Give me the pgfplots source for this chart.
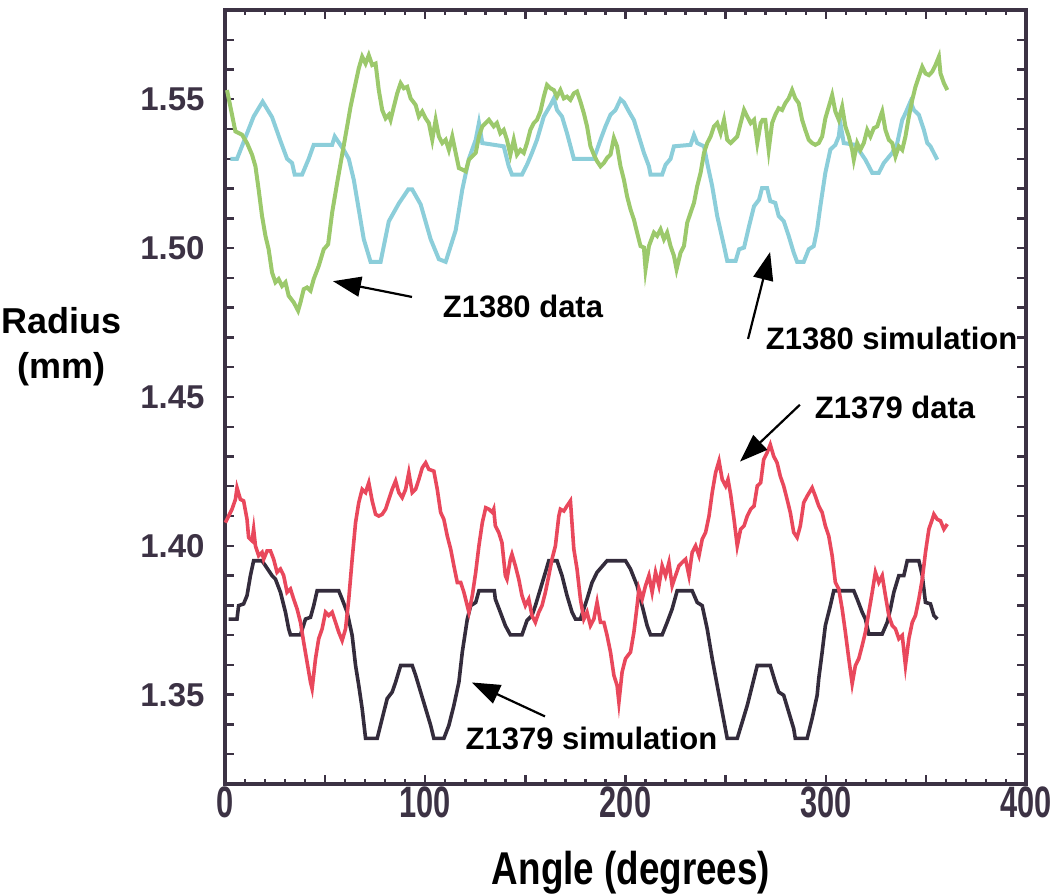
\documentclass[border=0pt]{standalone}
\usepackage{fontspec}
\setmainfont{Liberation Sans}
\usepackage{graphicx}
\usepackage{pgfplots}
\pgfplotsset{compat=1.18}
\usetikzlibrary{arrows.meta}

\definecolor{simcyan}{RGB}{140,206,218}
\definecolor{datagreen}{RGB}{156,201,108}
\definecolor{datared}{RGB}{233,72,92}
\definecolor{simdark}{RGB}{52,44,60}
\definecolor{framecol}{RGB}{60,50,68}

% condensed x tick labels
\newcommand{\xl}[1]{\scalebox{0.7}[1]{#1}}

\begin{document}
\begin{tikzpicture}
\begin{axis}[
    name=ax,
    scale only axis,
    width=400.5pt,
    height=387pt,
    xmin=0, xmax=400,
    ymin=1.32, ymax=1.58,
    clip=false,
    axis line style={framecol, line width=1.7pt},
    tick style={framecol, line width=1.2pt},
    tick align=inside,
    major tick length=4.5pt,
    minor tick length=2.5pt,
    xtick={0,50,...,400},
    xticklabels={\xl{0},,\xl{100},,\xl{200},,\xl{300},,\xl{400}},
    minor xtick={10,20,...,390},
    ytick={1.33,1.34,1.35,1.36,1.37,1.38,1.39,1.40,1.41,1.42,1.43,1.44,1.45,1.46,1.47,1.48,1.49,1.50,1.51,1.52,1.53,1.54,1.55,1.56,1.57},
    yticklabels={,,1.35,,,,,1.40,,,,,1.45,,,,,1.50,,,,,1.55,,},
    xticklabel style={font=\fontsize{22}{24}\selectfont\bfseries, text=framecol, inner sep=1pt},
    yticklabel style={font=\fontsize{16.5}{18}\selectfont\bfseries, text=framecol, inner sep=0pt, xshift=-10pt},
]

% Z1380 simulation
\addplot[simcyan, line width=2pt] coordinates {
(2.7,1.530) (6,1.530) (14.3,1.5442) (18.8,1.5492) (23.5,1.544) (27.7,1.536) (31,1.530) (33.5,1.5286)
(34.8,1.5247) (38.5,1.5247) (41.8,1.530) (44.3,1.5347) (53.5,1.5347) (54.8,1.5375) (59.3,1.533)
(61.8,1.530) (64.3,1.523) (66.8,1.513) (69.3,1.503) (72.7,1.4954) (77.7,1.4954) (81.8,1.509)
(86.8,1.515) (91.5,1.5197) (93.5,1.5197) (97.7,1.5147) (102.7,1.503) (106.8,1.4963) (110.2,1.4954)
(115.2,1.506) (118.5,1.5197) (121.8,1.530) (125.2,1.5364) (126.8,1.542) (128.5,1.5353) (139.2,1.5342)
(141.7,1.5275) (143.3,1.5247) (148.3,1.5247) (150.8,1.528) (153.3,1.532) (155.8,1.5364) (159.2,1.5442)
(162.5,1.548) (164.2,1.5503) (165.8,1.5464) (168.3,1.5442) (170.8,1.5386) (174.2,1.530) (184.2,1.530)
(187.5,1.5364) (190,1.5409) (192.5,1.5448) (195,1.5464) (197.5,1.550) (199.2,1.549) (201.7,1.5459)
(204.2,1.543) (206.7,1.5375) (209.2,1.532) (211.7,1.5275) (212.5,1.5247) (218.3,1.5247) (220,1.528)
(222.5,1.530) (224.2,1.5342) (232.5,1.5347) (234.2,1.538) (235.8,1.5353) (239.2,1.5342) (240.8,1.5286)
(243.3,1.5208) (245.8,1.5108) (249.2,1.5007) (250.8,1.4957) (255,1.4957) (256.7,1.4996) (259.2,1.5002)
(261.7,1.5074) (264.2,1.5141) (266.7,1.5163) (268.2,1.5202) (270.7,1.5202) (272.3,1.5158) (274.8,1.5152)
(276.5,1.5108) (279,1.5091) (281.5,1.5041) (284,1.4985) (285.7,1.4954) (289,1.4954) (291.5,1.4996)
(294,1.5007) (295.7,1.5063) (297.3,1.5141) (299.8,1.5253) (302.3,1.5331) (304.8,1.5347) (306.5,1.5375)
(307.3,1.542) (309,1.5353) (314.8,1.5347) (316.5,1.533) (319.8,1.5297) (323.2,1.5253) (326.5,1.5253)
(329,1.5286) (333.2,1.532) (335.7,1.5353) (338.2,1.5431) (339.8,1.5453) (342.3,1.5492) (344,1.5464)
(346.5,1.5448) (349,1.5397) (350.7,1.5353) (352.3,1.5342) (355.7,1.5297)
};

% Z1380 data
\addplot[datagreen, line width=2pt] coordinates {
(1,1.5531) (5.2,1.5392) (8.5,1.5381) (11,1.5353) (13.5,1.5314) (15.2,1.5275) (16.8,1.5197) (18.5,1.5108)
(20.2,1.5041) (21.8,1.4996) (23.5,1.4918) (25.2,1.4885) (26.8,1.4896) (28.5,1.4873) (30.2,1.4885)
(31.8,1.484) (34.3,1.4818) (36.5,1.479) (37.7,1.4818) (39.3,1.4862) (41,1.4868) (42.7,1.4857)
(44.3,1.4896) (46.8,1.494) (49.3,1.4996) (51.5,1.5013) (53.5,1.5119) (56,1.5219) (58.5,1.5314)
(61,1.5409) (62.7,1.5475) (65.2,1.5554) (66.8,1.5604) (68.5,1.5643) (70.2,1.562) (71.8,1.5648)
(73.5,1.5615) (75.2,1.562) (76.8,1.5531) (78.5,1.5464) (80.2,1.5436) (81.8,1.5448) (82.7,1.5431)
(84.3,1.5475) (86,1.552) (87.7,1.5554) (89.3,1.5537) (91,1.5542) (92.7,1.5503) (95.2,1.5481)
(96.8,1.5442) (98.5,1.5459) (100.2,1.5436) (101.8,1.542) (103.5,1.5364) (105.2,1.5431) (106.8,1.5375)
(108.5,1.5353) (110.2,1.5364) (111.8,1.533) (113.5,1.5375) (115.2,1.532) (116.8,1.5269) (118.5,1.5264)
(120.2,1.5258) (121.8,1.5297) (125.2,1.532) (126.8,1.5375) (128.5,1.5409) (131.8,1.5431) (134.2,1.5409)
(135.8,1.542) (137.5,1.5386) (139.2,1.5397) (140.8,1.5364) (142.5,1.5314) (144.2,1.5364) (145.8,1.5314)
(147.5,1.533) (149.2,1.532) (150.8,1.5353) (152.5,1.5397) (154.2,1.542) (155.8,1.5431) (157.5,1.5459)
(159.2,1.5509) (160.8,1.5548) (162.5,1.5537) (164.2,1.5531) (165.8,1.5509) (167.5,1.5531) (169.2,1.5503)
(170.8,1.5509) (172.5,1.5498) (174.2,1.552) (175.8,1.5526) (177.5,1.5492) (179.2,1.5453) (180.8,1.5409)
(182.5,1.5342) (184.2,1.5314) (185.8,1.5292) (187.5,1.5275) (189.2,1.5286) (190.8,1.5303) (192.5,1.5314)
(194.2,1.537) (195.8,1.5342) (197.5,1.5275) (199.2,1.523) (200.8,1.5174) (202.5,1.513) (204.2,1.5096)
(205.8,1.5052) (207.5,1.5007) (209.2,1.5002) (210,1.4929) (211.7,1.5007) (214.2,1.5052) (215.8,1.5041)
(217.5,1.5063) (219.2,1.503) (220.8,1.5052) (222.5,1.5007) (224.2,1.4974) (225.5,1.4929) (227.5,1.4985)
(229.2,1.5007) (230.8,1.5085) (232.5,1.5119) (234.2,1.5152) (235.8,1.5208) (237.5,1.5253) (239.2,1.532)
(240.8,1.5353) (242.5,1.5375) (244.2,1.5409) (245.8,1.542) (247.5,1.5386) (249.2,1.5431) (250.8,1.5364)
(252.5,1.5353) (254.2,1.5364) (255.8,1.5375) (257.5,1.542) (259.2,1.5464) (260.8,1.5442) (262.5,1.542)
(264.2,1.5431) (265.8,1.5353) (267.5,1.542) (268.5,1.5431) (269.8,1.5431) (271.5,1.533) (273.2,1.542)
(274.8,1.5448) (276.5,1.547) (278.2,1.5464) (279.8,1.5487) (281.5,1.5503) (283.2,1.5531) (284.8,1.5503)
(286.5,1.5487) (288.2,1.5431) (289.8,1.5397) (291.5,1.5364) (293.2,1.5353) (294.8,1.5347) (296.5,1.5353)
(298.2,1.5375) (299.8,1.5436) (301.5,1.5475) (303.2,1.5514) (304.8,1.5459) (306.5,1.5431) (308.2,1.5475)
(309.8,1.5409) (311.5,1.5375) (313.2,1.533) (314,1.5297) (315.7,1.5353) (317.3,1.533) (319,1.5353)
(320.7,1.5397) (322.3,1.5375) (324,1.5403) (325.7,1.5409) (327.3,1.5442) (328.2,1.5459) (329.8,1.5397)
(331.5,1.5364) (333.2,1.5353) (334.8,1.5308) (336.5,1.5342) (338.2,1.533) (339.8,1.5375) (341.5,1.5442)
(343.2,1.5498) (344.8,1.5542) (346.5,1.5576) (348.2,1.5609) (349.8,1.5587) (351.5,1.5581) (353.2,1.5593)
(354.8,1.5615) (356.5,1.5643) (357.3,1.5587) (359,1.5554) (360.7,1.5531)
};

% Z1379 simulation
\addplot[simdark, line width=1.8pt] coordinates {
(1.8,1.3754) (6,1.3754) (6.8,1.3799) (9.3,1.3805) (11,1.3833) (12.7,1.39) (14.3,1.395) (18.5,1.395)
(20.2,1.3933) (23.5,1.39) (25.2,1.3888) (27.7,1.3844) (30.2,1.3777) (31.8,1.3721) (32.7,1.3701)
(37.7,1.3701) (40.2,1.3754) (42.7,1.376) (44.3,1.3799) (46,1.3849) (56.8,1.3849) (58.5,1.3821)
(61,1.3777) (63.5,1.3699) (65.2,1.3598) (66.8,1.3531) (68.5,1.3453) (70.2,1.3353) (76,1.3353)
(78.5,1.342) (81,1.3487) (83.5,1.3509) (85.2,1.3542) (87.7,1.3598) (93.5,1.3598) (95.2,1.3565)
(97.7,1.3509) (100.2,1.3453) (102.7,1.3397) (104.3,1.3353) (109.3,1.3353) (111.8,1.3397) (114.3,1.3464)
(116.8,1.3542) (118.5,1.3643) (121,1.3754) (122.7,1.3799) (125.2,1.381) (126.8,1.3849) (134.5,1.3849)
(135,1.3821) (137.5,1.3777) (140,1.3732) (142.5,1.3701) (148.3,1.3701) (150.8,1.3749) (153.3,1.3766)
(155,1.3799) (157.5,1.3855) (160,1.3911) (161.7,1.395) (165.8,1.395) (168.3,1.39) (170.8,1.3833)
(173.3,1.3777) (175,1.3754) (177.5,1.3754) (180.8,1.3821) (183.3,1.3877) (185.8,1.3911) (190.8,1.395)
(200,1.395) (202.5,1.3922) (205.8,1.3866) (208.3,1.3799) (210.8,1.3732) (212.5,1.3701) (218.3,1.3701)
(220.8,1.3743) (223.3,1.3788) (225.8,1.3849) (233.3,1.3849) (235.8,1.381) (238.3,1.3799) (240.8,1.3721)
(243.3,1.3621) (245.8,1.3531) (248.3,1.3442) (250.8,1.3353) (255.8,1.3353) (258.3,1.3408) (260.8,1.3464)
(263.3,1.3531) (265.8,1.3598) (272.3,1.3598) (274.8,1.3542) (276.5,1.3509) (279,1.3498) (281.5,1.3442)
(284,1.3386) (284.8,1.3353) (290.7,1.3353) (293.2,1.342) (295.7,1.3498) (296.5,1.3554) (298.2,1.3643)
(299.8,1.3732) (302.3,1.3799) (304,1.3849) (314,1.3849) (315.7,1.3821) (318.2,1.3777) (319.8,1.3754)
(321.5,1.3704) (328.2,1.3704) (330.7,1.3743) (332.3,1.3788) (334,1.3844) (336.5,1.39) (339,1.39)
(340.7,1.395) (346.5,1.395) (348.2,1.39) (349.8,1.381) (352.3,1.3805) (354,1.3766) (355.7,1.3754)
};

% Z1379 data
\addplot[datared, line width=1.8pt] coordinates {
(0.2,1.4078) (1.8,1.41) (3.5,1.4123) (5.2,1.4156) (6,1.4195) (7.7,1.4156) (9.3,1.4151) (11,1.4089)
(11.8,1.4028) (13.5,1.4017) (14.3,1.4056) (15.2,1.40) (16.8,1.3967) (18.5,1.3978) (19.3,1.3955)
(21,1.3983) (22.7,1.3983) (24.3,1.3955) (26,1.3911) (27.7,1.3922) (29.3,1.39) (31,1.3844) (32.7,1.3855)
(34.3,1.3821) (36,1.3788) (37.7,1.3743) (39.3,1.3676) (41,1.3609) (42.7,1.3542) (43.5,1.352)
(45.2,1.3621) (46.8,1.3688) (48.5,1.3721) (50.2,1.3777) (51.8,1.3766) (53.5,1.3777) (55.2,1.3743)
(56.8,1.371) (58.5,1.3682) (60.2,1.3721) (61.8,1.3821) (63.5,1.3955) (65.2,1.4078) (66.8,1.4145)
(68.5,1.419) (70.2,1.4179) (71.8,1.4212) (73.5,1.4151) (75.2,1.4106) (76.8,1.41) (78.5,1.4106)
(80.2,1.4123) (81.8,1.4156) (83.5,1.419) (85.2,1.4218) (86.8,1.4179) (88.5,1.4162) (90.2,1.419)
(91.8,1.4246) (93.5,1.4179) (95.2,1.419) (96.8,1.4223) (98.5,1.4262) (100.2,1.4279) (101.8,1.4257)
(104.3,1.4251) (106,1.419) (107.7,1.4112) (109.3,1.4089) (111,1.4033) (112.7,1.3989) (114.3,1.3933)
(116,1.3877) (117.7,1.3877) (119.3,1.3844) (121.8,1.3777) (123.5,1.3833) (125.2,1.3911) (126.8,1.40)
(128.5,1.4078) (130.2,1.4128) (131.8,1.4123) (133.5,1.4112) (134.2,1.4123) (135,1.4067) (136.7,1.4045)
(138.3,1.4011) (140,1.39) (140.8,1.3888) (142.5,1.3955) (143.3,1.3972) (145,1.3933) (146.7,1.3888)
(148.3,1.3833) (150,1.3799) (151.7,1.3821) (153.3,1.3766) (155,1.3743) (156.7,1.3777) (158.3,1.3799)
(160,1.3844) (161.7,1.39) (163.3,1.3955) (165,1.40) (166.7,1.41) (167.5,1.4123) (169.2,1.4117)
(170.8,1.4134) (172.5,1.4151) (174.2,1.3989) (175.8,1.3922) (177.5,1.3821) (179.2,1.3754) (180.8,1.3777)
(182.5,1.3732) (184.2,1.3754) (185.8,1.381) (187.5,1.3743) (189.2,1.3743) (190.8,1.3699) (192.5,1.3643)
(194.2,1.3565) (195.8,1.3531) (196.7,1.3475) (198.3,1.3576) (200,1.3621) (202.5,1.3643) (204.2,1.371)
(205.8,1.3799) (206.7,1.3855) (208.3,1.3821) (210,1.3866) (211.7,1.39) (213.3,1.3844) (215,1.3911)
(216.7,1.3866) (218.3,1.3933) (220,1.39) (221.7,1.3944) (223.3,1.3866) (225,1.39) (226.7,1.3933)
(228.3,1.3944) (230,1.3955) (231.7,1.39) (233.3,1.3978) (235,1.40) (236.7,1.3967) (238.3,1.4022)
(240,1.4045) (241.7,1.41) (243.3,1.4179) (245,1.4246) (246.7,1.4285) (248.3,1.4223) (250,1.4201)
(251.2,1.4223) (252.5,1.4173) (254.2,1.4089) (255.8,1.40) (257.5,1.4056) (259.2,1.4067) (260.8,1.41)
(262.5,1.4123) (264.2,1.4134) (265.8,1.4201) (267.5,1.4212) (269,1.429) (270.7,1.4313) (272.3,1.434)
(274,1.4301) (275.7,1.4279) (277.3,1.4234) (279,1.4201) (280.7,1.4156) (282.3,1.4112) (284,1.4045)
(285.7,1.4028) (287.3,1.4067) (289,1.4145) (290.7,1.4167) (293.2,1.4195) (294.8,1.4167) (296.5,1.4134)
(298.2,1.4112) (299.8,1.4067) (301.5,1.4033) (303.2,1.3967) (304.8,1.3877) (306.5,1.3855) (308.2,1.3788)
(309.8,1.371) (311.5,1.3621) (313.2,1.3537) (314.8,1.3598) (316.5,1.3621) (318.2,1.3665) (319.8,1.371)
(321.5,1.3777) (323.2,1.3844) (324.8,1.3911) (326.5,1.3877) (328.2,1.39) (329.8,1.3833) (331.5,1.3766)
(333.2,1.3732) (334.8,1.3721) (336.5,1.3688) (338.2,1.3699) (339.8,1.3598) (341.5,1.3688) (343.2,1.3743)
(344.8,1.3766) (346.5,1.3821) (348.2,1.3888) (349.8,1.3978) (351.5,1.4056) (353.2,1.4089) (354,1.4106)
(355.7,1.4089) (357.3,1.4084) (359,1.4056) (360.7,1.4073)
};

% annotations
\tikzset{callout/.style={black, line width=1.1pt, -{Triangle[length=14pt,width=10pt]}}}
\draw[callout] (axis cs:93.4,1.4836) -- (axis cs:53.9,1.4889);
\draw[callout] (axis cs:261.2,1.4695) -- (axis cs:272.2,1.4987);
\draw[callout] (axis cs:287.1,1.4474) -- (axis cs:257.2,1.4283);
\draw[callout] (axis cs:159.8,1.3427) -- (axis cs:123.3,1.3541);

\node[font=\fontsize{15.5}{17}\selectfont\bfseries] at (axis cs:148.8,1.4805) {Z1380 data};
\node[font=\fontsize{15.5}{17}\selectfont\bfseries] at (axis cs:332.9,1.4695) {Z1380 simulation};
\node[font=\fontsize{15.5}{17}\selectfont\bfseries] at (axis cs:334.6,1.4464) {Z1379 data};
\node[font=\fontsize{15.5}{17}\selectfont\bfseries] at (axis cs:183,1.3353) {Z1379 simulation};

% axis titles
\node[font=\fontsize{18}{22.5}\selectfont\bfseries, align=center, xshift=-81.5pt, yshift=218.5pt]
    at (rel axis cs:0,0) {Radius\\(mm)};
\node[font=\fontsize{23}{25}\selectfont\bfseries, xshift=203pt, yshift=-44.5pt]
    at (rel axis cs:0,0) {\scalebox{0.8}[1]{Angle (degrees)}};
\end{axis}
\pgfresetboundingbox
\useasboundingbox ([shift={(-112.5pt,-55.5pt)}]ax.south west) rectangle ([shift={(15.5pt,5pt)}]ax.north east);
\end{tikzpicture}
\end{document}
